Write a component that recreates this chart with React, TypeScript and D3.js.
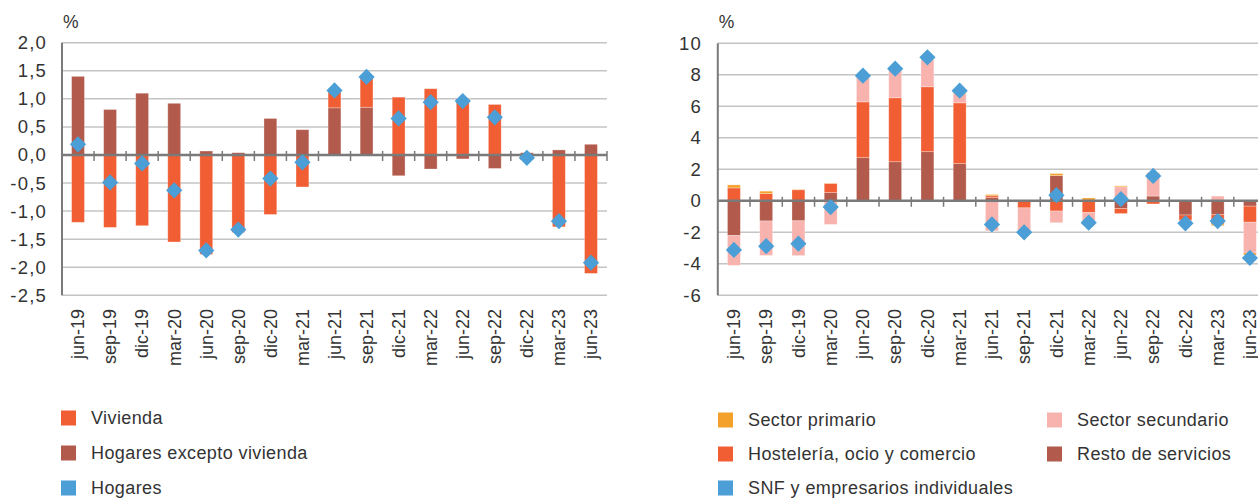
import React from "react";
import * as d3 from "d3";

const periods = ["jun-19","sep-19","dic-19","mar-20","jun-20","sep-20","dic-20","mar-21","jun-21","sep-21","dic-21","mar-22","jun-22","sep-22","dic-22","mar-23","jun-23"];

// Left chart
const vivienda = [-1.20,-1.29,-1.26,-1.55,-1.77,-1.38,-1.06,-0.57,0.29,0.53,1.03,1.18,1.00,0.90,-0.09,-1.28,-2.11];
const hogaresExceptoVivienda = [1.40,0.81,1.10,0.92,0.07,0.04,0.65,0.45,0.84,0.85,-0.37,-0.25,-0.07,-0.24,0.04,0.09,0.19];
const hogares = [0.19,-0.49,-0.15,-0.63,-1.70,-1.33,-0.42,-0.13,1.15,1.39,0.65,0.94,0.96,0.67,-0.05,-1.18,-1.92];
const leftTicks = [2.0,1.5,1.0,0.5,0.0,-0.5,-1.0,-1.5,-2.0,-2.5];

// Right chart
const restoServicios = [-2.21,-1.28,-1.27,0.52,2.74,2.48,3.12,2.36,0.20,-0.05,1.60,0.03,-0.49,0.30,-0.90,-0.88,-0.34];
const hosteleria = [0.82,0.46,0.70,0.58,3.54,4.06,4.12,3.86,0.12,-0.40,-0.65,-0.75,-0.32,-0.20,-0.33,-0.60,-1.02];
const sectorSecundario = [-1.89,-2.19,-2.21,-1.50,1.60,1.72,1.70,0.60,-1.90,-1.65,-0.74,-0.80,0.89,1.45,-0.20,0.30,-1.95];
const sectorPrimario = [0.19,0.15,0.02,0.02,0.05,0.05,0.05,0.10,0.08,0.05,0.13,0.15,0.06,0.03,0.00,-0.10,-0.13];
const snf = [-3.12,-2.88,-2.72,-0.40,7.94,8.39,9.11,6.99,-1.50,-2.00,0.36,-1.39,0.10,1.58,-1.43,-1.29,-3.63];
const rightTicks = [10,8,6,4,2,0,-2,-4,-6];

const C_ORANGE = "#f15e33";
const C_BROWN = "#b25a4b";
const C_BLUE = "#4b9fd6";
const C_PINK = "#f8b3ae";
const C_YELLOW = "#f4a12c";
const TEXT = "#333333";
const FONT = "'Liberation Sans', Arial, Helvetica, sans-serif";

type Series = { key: string; color: string; values: number[] };

function Chart(props: {
  x0: number; x1: number; yTop: number; yBottom: number;
  domain: [number, number]; ticks: number[]; fmt: (v: number) => string;
  series: Series[]; points: number[]; labelRight: number;
}) {
  const { x0, x1, yTop, yBottom, domain, ticks, fmt, series, points, labelRight } = props;
  const x = d3.scaleBand<string>().domain(periods).range([x0, x1]).paddingInner(0).paddingOuter(0);
  const y = d3.scaleLinear().domain(domain).range([yBottom, yTop]);
  const bw = x.bandwidth() * 0.4;
  const rows = periods.map((p, i) => {
    const r: any = { p };
    series.forEach((s) => (r[s.key] = s.values[i]));
    return r;
  });
  const stacked = d3.stack<any>().keys(series.map((s) => s.key)).offset(d3.stackOffsetDiverging)(rows);
  const diamond = d3.symbol().type(d3.symbolSquare).size(132)();
  const y0 = y(0);
  return (
    <g>
      {ticks.map((t) => (
        <g key={"g" + t}>
          <line x1={x0} x2={x1} y1={y(t)} y2={y(t)} stroke="#c4c4c4" strokeWidth={1.5} />
          <text x={labelRight} y={y(t)} dy="0.35em" textAnchor="end" fontSize={18.5} fill={TEXT} fontFamily={FONT}
            style={{ letterSpacing: "1.2px" }}>{fmt(t)}</text>
        </g>
      ))}
      {stacked.map((layer, li) => (
        <g key={layer.key} fill={series[li].color}>
          {layer.map((d, i) => {
            const top = y(Math.max(d[0], d[1]));
            const bot = y(Math.min(d[0], d[1]));
            if (bot - top <= 0) return null;
            return (
              <rect key={i} x={(x(periods[i]) as number) + (x.bandwidth() - bw) / 2} y={top} width={bw} height={bot - top}
                stroke="#ffffff" strokeOpacity={0.35} strokeWidth={0.8} />
            );
          })}
        </g>
      ))}
      <line x1={x0} x2={x1} y1={y0} y2={y0} stroke="#7a7a7a" strokeWidth={2.5} />
      {periods.map((p, i) => {
        const xx = (x(p) as number) + x.bandwidth();
        return <line key={"t" + i} x1={xx} x2={xx} y1={y0 - 4} y2={y0 + 6} stroke="#7a7a7a" strokeWidth={1.5} />;
      })}
      <line x1={x0} x2={x0} y1={yTop} y2={yBottom} stroke="#7a7a7a" strokeWidth={2} />
      {points.map((v, i) => (
        <path key={"d" + i} d={diamond as string} fill={C_BLUE}
          transform={`translate(${(x(periods[i]) as number) + x.bandwidth() / 2},${y(v)}) rotate(45)`} />
      ))}
      {periods.map((p) => (
        <text key={"l" + p} transform={`translate(${(x(p) as number) + x.bandwidth() / 2},309) rotate(-90)`}
          textAnchor="end" dy="0.35em" fontSize={18} fill={TEXT} fontFamily={FONT}>{p}</text>
      ))}
      <text x={x0 + 1} y={28} fontSize={17.5} fill={TEXT} fontFamily={FONT}>%</text>
    </g>
  );
}

function Legend(props: { items: { label: string; color: string; x: number; y: number }[] }) {
  return (
    <g>
      {props.items.map((it) => (
        <g key={it.label}>
          <rect x={it.x} y={it.y - 7.5} width={15} height={15} fill={it.color} />
          <text x={it.x + 30} y={it.y} dy="0.35em" fontSize={18} fill={TEXT} fontFamily={FONT}
            style={{ letterSpacing: "0.4px" }}>{it.label}</text>
        </g>
      ))}
    </g>
  );
}

export default function App() {
  const fmt1 = (v: number) => d3.format(".1f")(v).replace(".", ",").replace("−", "-");
  const fmt0 = (v: number) => String(v);
  return (
    <div style={{ position: "absolute", left: 0, top: 0 }}>
      <svg width={1258} height={498} style={{ display: "block", background: "#fff" }}>
        <Chart x0={62} x1={607} yTop={42.7} yBottom={295.3} domain={[-2.5, 2.0]} ticks={leftTicks} fmt={fmt1}
          labelRight={47}
          series={[
            { key: "Hogares excepto vivienda", color: C_BROWN, values: hogaresExceptoVivienda },
            { key: "Vivienda", color: C_ORANGE, values: vivienda },
          ]}
          points={hogares} />
        <Chart x0={717.8} x1={717.8 + 17 * 32.25} yTop={43.3} yBottom={295.3} domain={[-6, 10]} ticks={rightTicks} fmt={fmt0}
          labelRight={702}
          series={[
            { key: "Resto de servicios", color: C_BROWN, values: restoServicios },
            { key: "Hostelería, ocio y comercio", color: C_ORANGE, values: hosteleria },
            { key: "Sector secundario", color: C_PINK, values: sectorSecundario },
            { key: "Sector primario", color: C_YELLOW, values: sectorPrimario },
          ]}
          points={snf} />
        <Legend items={[
          { label: "Vivienda", color: C_ORANGE, x: 61, y: 418 },
          { label: "Hogares excepto vivienda", color: C_BROWN, x: 61, y: 453 },
          { label: "Hogares", color: C_BLUE, x: 61, y: 488 },
          { label: "Sector primario", color: C_YELLOW, x: 718, y: 420 },
          { label: "Hostelería, ocio y comercio", color: C_ORANGE, x: 718, y: 454 },
          { label: "SNF y empresarios individuales", color: C_BLUE, x: 718, y: 488 },
          { label: "Sector secundario", color: C_PINK, x: 1047, y: 420 },
          { label: "Resto de servicios", color: C_BROWN, x: 1047, y: 454 },
        ]} />
      </svg>
    </div>
  );
}
